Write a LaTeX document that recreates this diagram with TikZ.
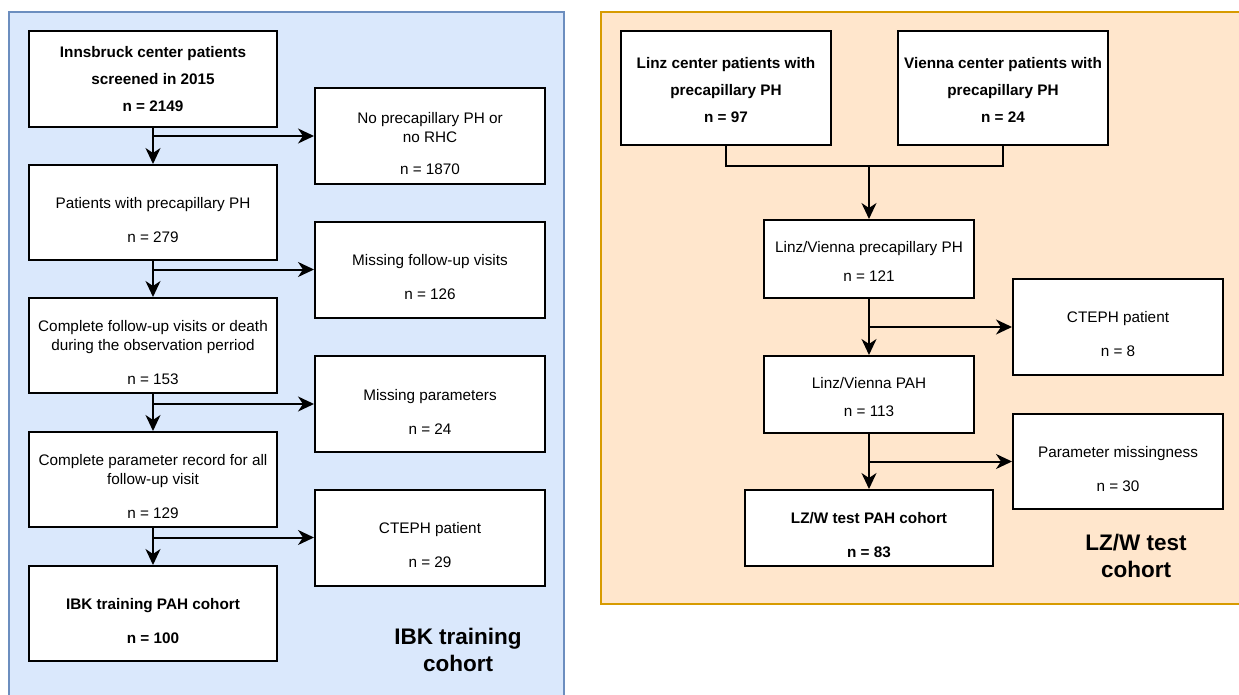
\documentclass[tikz,border=0pt]{standalone}
\usepackage{fontspec}
\setmainfont{Liberation Sans}
\usetikzlibrary{arrows.meta}
\definecolor{bluefill}{HTML}{DAE8FC}
\definecolor{blueline}{HTML}{6C8EBF}
\definecolor{orfill}{HTML}{FFE6CC}
\definecolor{orline}{HTML}{D79B00}
\newcommand\dnA{\rule{0pt}{26pt}}
\newcommand\dnB{\rule{0pt}{16pt}}
\begin{document}
\begin{tikzpicture}[x=1pt,y=-1pt,
  box/.style={draw=black,line width=2pt,fill=white,inner sep=0pt,align=center,font=\fontsize{15.3}{19}\selectfont},
  boldtxt/.style={font=\fontsize{15.3}{19}\selectfont\bfseries},
  mainL/.style={box,minimum width=248pt,minimum height=95pt},
  sideL/.style={box,minimum width=230pt,minimum height=96pt},
  rbox/.style={box,minimum width=210pt},
  arr/.style={line width=2pt,-{Stealth[length=16pt,width=15pt,inset=5pt]}},
  conn/.style={line width=2pt},
  panel/.style={line width=1.6pt},
  big/.style={align=center,inner sep=0pt,font=\fontsize{22.5}{27}\selectfont\bfseries}]
\useasboundingbox (0,0) rectangle (1239,695);
\clip (0,0) rectangle (1239,695);
\path[panel,draw=blueline,fill=bluefill] (9,12) rectangle (564,705);
\path[panel,draw=orline,fill=orfill] (601,12) rectangle (1250,604);

% left panel
\node[mainL,boldtxt,minimum height=96pt] (b1) at (153,79) {Innsbruck center patients\\[8pt]screened in 2015\\[8pt]n = 2149};
\node[mainL] (b2) at (153,212.5) {\dnA Patients with precapillary PH\\[15pt]n = 279};
\node[mainL] (b3) at (153,345.5) {\dnA Complete follow-up visits or death\\during the observation perriod\\[15pt]n = 153};
\node[mainL] (b4) at (153,479.5) {\dnA Complete parameter record for all\\follow-up visit\\[15pt]n = 129};
\node[mainL,boldtxt] (b5) at (153,613.5) {\dnA IBK training PAH cohort\\[15pt]n = 100};

\node[sideL] (s1) at (430,136) {\dnA No precapillary PH or\\no RHC\\[13pt]n = 1870};
\node[sideL] (s2) at (430,269.5) {\dnA Missing follow-up visits\\[15pt]n = 126};
\node[sideL] (s3) at (430,404) {\dnA Missing parameters\\[15pt]n = 24};
\node[sideL] (s4) at (430,537.5) {\dnA CTEPH patient\\[15pt]n = 29};

\draw[arr] (b1.south) -- (b2.north);
\draw[arr] (b1.south |- s1.west) -- (s1.west);
\draw[arr] (b2.south) -- (b3.north);
\draw[arr] (b2.south |- s2.west) -- (s2.west);
\draw[arr] (b3.south) -- (b4.north);
\draw[arr] (b3.south |- s3.west) -- (s3.west);
\draw[arr] (b4.south) -- (b5.north);
\draw[arr] (b4.south |- s4.west) -- (s4.west);

\node[big] (lblL) at (458,650) {IBK training\\cohort};

% right panel
\node[rbox,boldtxt,minimum height=114pt] (lz) at (726,88) {\dnB Linz center patients with\\[8pt]precapillary PH\\[8pt]n = 97};
\node[rbox,boldtxt,minimum height=114pt] (vi) at (1003,88) {\dnB Vienna center patients with\\[8pt]precapillary PH\\[8pt]n = 24};
\coordinate (j) at (869,166);
\node[rbox,minimum height=78pt] (r1) at (869,259) {\dnB Linz/Vienna precapillary PH\\[10pt]n = 121};
\node[rbox,minimum height=77pt] (r2) at (869,394.5) {\dnB Linz/Vienna PAH\\[9pt]n = 113};
\node[box,boldtxt,minimum width=248pt,minimum height=76pt] (r3) at (869,528) {\dnA LZ/W test PAH cohort\\[15pt]n = 83};
\node[rbox,minimum height=96pt] (rs1) at (1118,327) {\dnA CTEPH patient\\[15pt]n = 8};
\node[rbox,minimum height=95pt] (rs2) at (1118,461.5) {\dnA Parameter missingness\\[15pt]n = 30};

\draw[conn] (lz.south) |- (j) -| (vi.south);
\draw[arr] (j) -- (r1.north);
\draw[arr] (r1.south) -- (r2.north);
\draw[arr] (r1.south |- rs1.west) -- (rs1.west);
\draw[arr] (r2.south) -- (r3.north);
\draw[arr] (r2.south |- rs2.west) -- (rs2.west);

\node[big] (lblR) at (1136,556) {LZ/W test\\cohort};
\end{tikzpicture}
\end{document}
